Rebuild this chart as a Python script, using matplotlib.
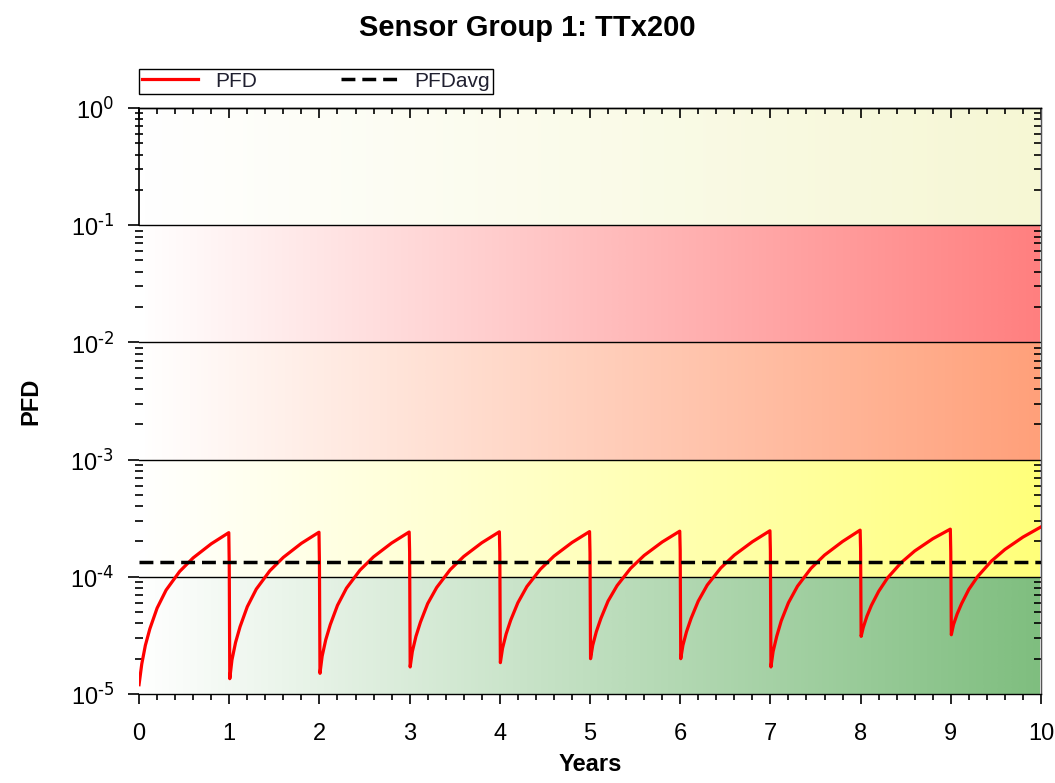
import numpy as np
import matplotlib
matplotlib.use("Agg")
import matplotlib.pyplot as plt
from matplotlib.colors import LinearSegmentedColormap
from matplotlib.ticker import MultipleLocator, LogLocator, NullFormatter

plt.rcParams['font.family'] = ['Liberation Sans', 'DejaVu Sans']
plt.rcParams['mathtext.default'] = 'regular'
plt.rcParams['axes.unicode_minus'] = False

# proof test years and fractions of each year where the curve was read
years = [0, 1, 2, 3, 4, 5, 6, 7, 8, 9]
fractions = [0.006, 0.03, 0.07, 0.12, 0.2, 0.3, 0.45, 0.6, 0.8, 0.995]

# PFD values (x1e-5) per year at the fractions above
pfd_cycles = [
    [1.2, 1.8, 2.6, 3.6, 5.4, 7.7, 11.1, 14.5, 19.1, 23.8],
    [1.35, 1.95, 2.75, 3.75, 5.55, 7.85, 11.25, 14.65, 19.3, 24.0],
    [1.5, 2.1, 2.9, 3.9, 5.7, 8.0, 11.4, 14.8, 19.4, 24.1],
    [1.7, 2.3, 3.1, 4.1, 5.9, 8.1, 11.5, 14.9, 19.5, 24.2],
    [1.85, 2.45, 3.25, 4.25, 6.0, 8.25, 11.6, 15.0, 19.6, 24.3],
    [2.0, 2.6, 3.4, 4.4, 6.2, 8.4, 11.8, 15.2, 19.8, 24.5],
    [2.0, 2.6, 3.4, 4.4, 6.2, 8.5, 11.9, 15.3, 19.9, 24.7],
    [1.7, 2.3, 3.1, 4.2, 6.0, 8.3, 11.8, 15.3, 20.0, 25.0],
    [3.1, 3.7, 4.6, 5.7, 7.5, 9.8, 13.2, 16.6, 21.1, 25.5],
    [3.2, 3.9, 4.8, 5.9, 7.8, 10.1, 13.6, 17.1, 21.8, 26.5],
]
# value right at each proof test (years 1..9), x1e-5
pfd_at_test = [12.7, 13.4, 16.3, 16.0, 16.0, 16.7, 16.7, 17.3, 16.3]

pfd_avg = 1.34e-4

band_edges = [1e0, 1e-1, 1e-2, 1e-3, 1e-4, 1e-5]
band_exps = ['0', '-1', '-2', '-3', '-4', '-5']
band_colors = ['#f6f7d4', '#ff7f7f', '#ffa07a', '#ffff7a', '#7fbe7f']


def build_curve():
    t = []
    v = []
    for k, row in zip(years, pfd_cycles):
        if k > 0:
            t.append(k)
            v.append(pfd_at_test[k - 1] * 1e-5)
        for f, p in zip(fractions, row):
            t.append(k + f)
            v.append(p * 1e-5)
    t[0] = 0.0
    return np.array(t), np.array(v)


fig = plt.figure(figsize=(10.55, 7.83), dpi=100)
ax = fig.add_axes([0.1318, 0.1137, 0.8549, 0.7484])
ax.set_yscale('log')
ax.set_xlim(0, 10)
ax.set_ylim(1e-5, 1e0)

for i, c in enumerate(band_colors):
    cmap = LinearSegmentedColormap.from_list('b%d' % i, ['#ffffff', c])
    grad = np.linspace(0, 1, 256).reshape(1, -1)
    ax.imshow(grad, cmap=cmap, aspect='auto', interpolation='bilinear',
              extent=(0, 10, band_edges[i + 1], band_edges[i]), zorder=0)

for e in band_edges[1:-1]:
    ax.axhline(e, color='black', lw=1.0, zorder=1)

t, v = build_curve()
ax.plot(t, v, color='red', lw=2.3, label='PFD', zorder=3)
ax.axhline(pfd_avg, color='black', lw=2.5, ls=(0, (4, 2)), label='PFDavg', zorder=3)

ax.spines['left'].set_visible(False)
ax.plot([0, 0], [1e-1, 1e0], color='black', lw=1.2, clip_on=False, zorder=4)
for s in ['top', 'right', 'bottom']:
    ax.spines[s].set_linewidth(1.0)
ax.spines['right'].set_color('#555555')

ax.xaxis.set_major_locator(MultipleLocator(1))
ax.xaxis.set_minor_locator(MultipleLocator(0.2))
ax.yaxis.set_minor_locator(LogLocator(base=10, subs=np.arange(2, 10), numticks=20))
ax.yaxis.set_minor_formatter(NullFormatter())
ax.set_yticks(band_edges)
ax.set_yticklabels([r'$10^{\text{%s}}$' % p for p in band_exps])

ax.tick_params(axis='x', which='major', direction='out', length=7, width=1.2,
               labelsize=17, pad=14, top=False)
ax.tick_params(axis='x', which='minor', direction='out', length=4, width=1.2, top=False)
ax.tick_params(axis='y', which='major', direction='out', length=8, width=1.2,
               labelsize=17, pad=10, right=False)
ax.tick_params(axis='y', which='minor', direction='inout', length=6, width=1.2, right=False)

top = ax.secondary_xaxis('top')
top.xaxis.set_major_locator(MultipleLocator(1))
top.xaxis.set_minor_locator(MultipleLocator(0.2))
top.tick_params(which='major', direction='in', length=7, width=1.2, labeltop=False)
top.tick_params(which='minor', direction='in', length=4, width=1.2)
top.spines['top'].set_linewidth(1.0)

right = ax.secondary_yaxis('right')
right.yaxis.set_minor_locator(LogLocator(base=10, subs=np.arange(2, 10), numticks=20))
right.yaxis.set_minor_formatter(NullFormatter())
right.tick_params(which='major', direction='in', length=0, labelright=False)
right.tick_params(which='minor', direction='in', length=5, width=1.2)
right.spines['right'].set_color('#555555')

ax.set_xlabel('Years', fontsize=17, fontweight='bold', labelpad=6)
ax.set_ylabel('PFD', fontsize=17, fontweight='bold', labelpad=20)
fig.suptitle('Sensor Group 1: TTx200', fontsize=21, fontweight='bold', y=0.982)

leg = ax.legend(loc='lower left', bbox_to_anchor=(0, 1.024, 0.392, 0.049),
                mode='expand', ncol=2, fontsize=15, handlelength=2.7,
                handletextpad=0.8, borderaxespad=0, borderpad=0.15,
                fancybox=False, framealpha=1, edgecolor='black')
leg.get_frame().set_linewidth(1.0)
for txt in leg.get_texts():
    txt.set_color('#202030')

fig.savefig('out.png', dpi=100)
